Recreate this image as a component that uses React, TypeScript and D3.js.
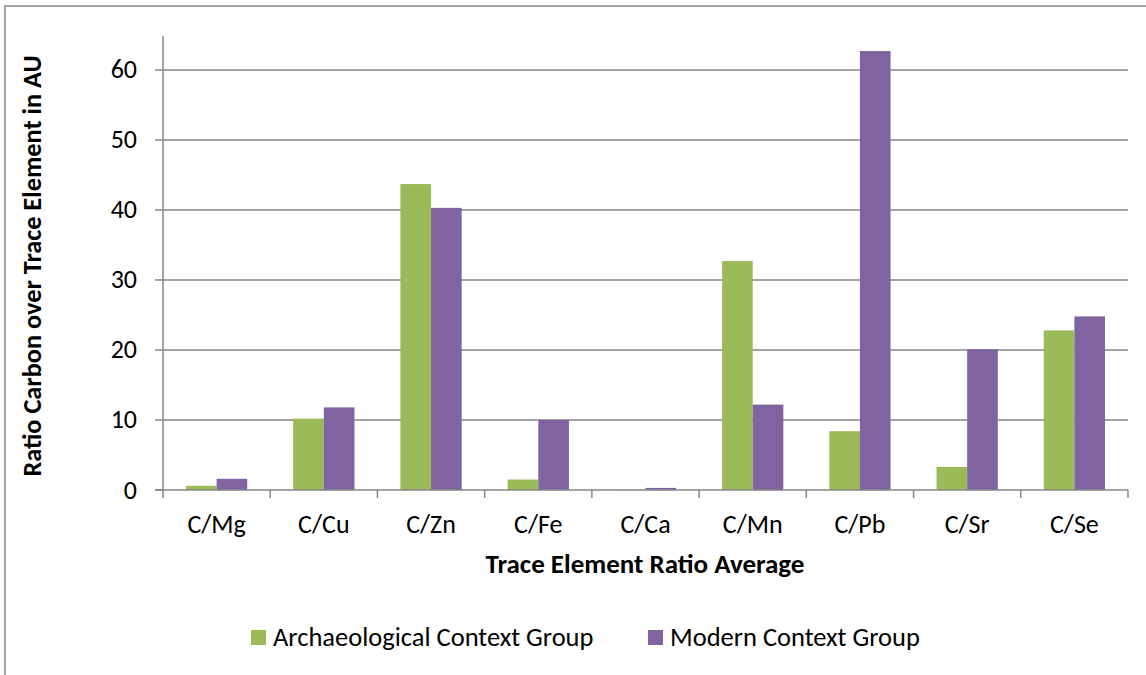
import React, { useEffect, useRef } from "react";
import * as d3 from "d3";

// Grouped bar chart: trace element ratios

const categories = ["C/Mg", "C/Cu", "C/Zn", "C/Fe", "C/Ca", "C/Mn", "C/Pb", "C/Sr", "C/Se"];
const archaeological = [0.6, 10.2, 43.7, 1.5, 0.05, 32.7, 8.4, 3.3, 22.8];
const modern = [1.6, 11.8, 40.3, 10.0, 0.3, 12.2, 62.7, 20.1, 24.8];
const seriesNames = ["Archaeological Context Group", "Modern Context Group"];
const seriesColors = ["#9BBB59", "#8064A2"];
const yTicks = [0, 10, 20, 30, 40, 50, 60];

export default function App() {
  const ref = useRef<SVGSVGElement>(null);

  useEffect(() => {
    const svg = d3.select(ref.current);
    svg.selectAll("*").remove();

    const left = 163, right = 1128, top = 36, bottom = 490;
    const font = "Carlito, Calibri, Lato, sans-serif";
    const grey = "#868686";

    // outer frame (left and top edges visible)
    svg.append("path")
      .attr("d", "M5,675 L5,6 L1146,6")
      .attr("fill", "none").attr("stroke", grey).attr("stroke-width", 1.5);

    const x = d3.scaleBand().domain(categories).range([left, right]);
    const y = d3.scaleLinear().domain([0, 64.85]).range([bottom, top]);
    const inner = d3.scaleBand().domain(["0", "1"]).range([0, x.bandwidth()])
      .paddingOuter(0.75).paddingInner(0);

    // gridlines
    svg.append("g").selectAll("line").data(yTicks.filter(d => d > 0)).join("line")
      .attr("x1", left).attr("x2", right)
      .attr("y1", d => y(d)).attr("y2", d => y(d))
      .attr("stroke", grey).attr("stroke-width", 1.5);

    // bars
    const rows = categories.map((c, i) => ({ c, vals: [archaeological[i], modern[i]] }));
    svg.append("g").selectAll("g").data(rows).join("g")
      .attr("transform", d => `translate(${x(d.c)},0)`)
      .selectAll("rect").data(d => d.vals.map((v, j) => ({ v, j }))).join("rect")
      .attr("x", d => inner(String(d.j))!)
      .attr("width", inner.bandwidth())
      .attr("y", d => y(d.v))
      .attr("height", d => bottom - y(d.v))
      .attr("fill", d => seriesColors[d.j]);

    // y axis
    svg.append("line").attr("x1", left).attr("x2", left).attr("y1", top).attr("y2", bottom)
      .attr("stroke", grey).attr("stroke-width", 1.5);
    const yg = svg.append("g").selectAll("g").data(yTicks).join("g");
    yg.append("line").attr("x1", left - 8).attr("x2", left)
      .attr("y1", d => y(d)).attr("y2", d => y(d)).attr("stroke", grey).attr("stroke-width", 1.5);
    yg.append("text").attr("x", 137).attr("y", d => y(d) + 8.5)
      .attr("text-anchor", "end").attr("font-family", font).attr("font-size", 26)
      .attr("fill", "#000").text(d => d);

    // x axis
    svg.append("line").attr("x1", left - 8).attr("x2", right).attr("y1", bottom).attr("y2", bottom)
      .attr("stroke", grey).attr("stroke-width", 1.5);
    const bounds = categories.map(c => x(c)!).concat([right]);
    svg.append("g").selectAll("line").data(bounds).join("line")
      .attr("x1", d => d).attr("x2", d => d).attr("y1", bottom).attr("y2", bottom + 8)
      .attr("stroke", grey).attr("stroke-width", 1.5);
    svg.append("g").selectAll("text").data(categories).join("text")
      .attr("x", d => x(d)! + x.bandwidth() / 2).attr("y", 533)
      .attr("text-anchor", "middle").attr("font-family", font).attr("font-size", 26)
      .attr("fill", "#000").text(d => d);

    // axis titles
    svg.append("text").attr("x", 645).attr("y", 573)
      .attr("text-anchor", "middle").attr("font-family", font).attr("font-size", 27)
      .attr("font-weight", "bold").text("Trace Element Ratio Average");
    svg.append("text").attr("transform", `translate(41,266) rotate(-90)`)
      .attr("text-anchor", "middle").attr("font-family", font).attr("font-size", 26.3)
      .attr("font-weight", "bold").text("Ratio Carbon over Trace Element in AU");

    // legend
    const legendX = [251, 648];
    const lg = svg.append("g").selectAll("g").data(seriesNames).join("g")
      .attr("transform", (d, i) => `translate(${legendX[i]},630)`);
    lg.append("rect").attr("width", 15).attr("height", 15).attr("fill", (d, i) => seriesColors[i]);
    lg.append("text").attr("x", 22).attr("y", 16).attr("font-family", font).attr("font-size", 26.5)
      .attr("fill", "#000").text(d => d);
  }, []);

  return (
    <svg ref={ref} width={1146} height={675}
      style={{ position: "absolute", left: 0, top: 0, background: "#fff" }} />
  );
}
